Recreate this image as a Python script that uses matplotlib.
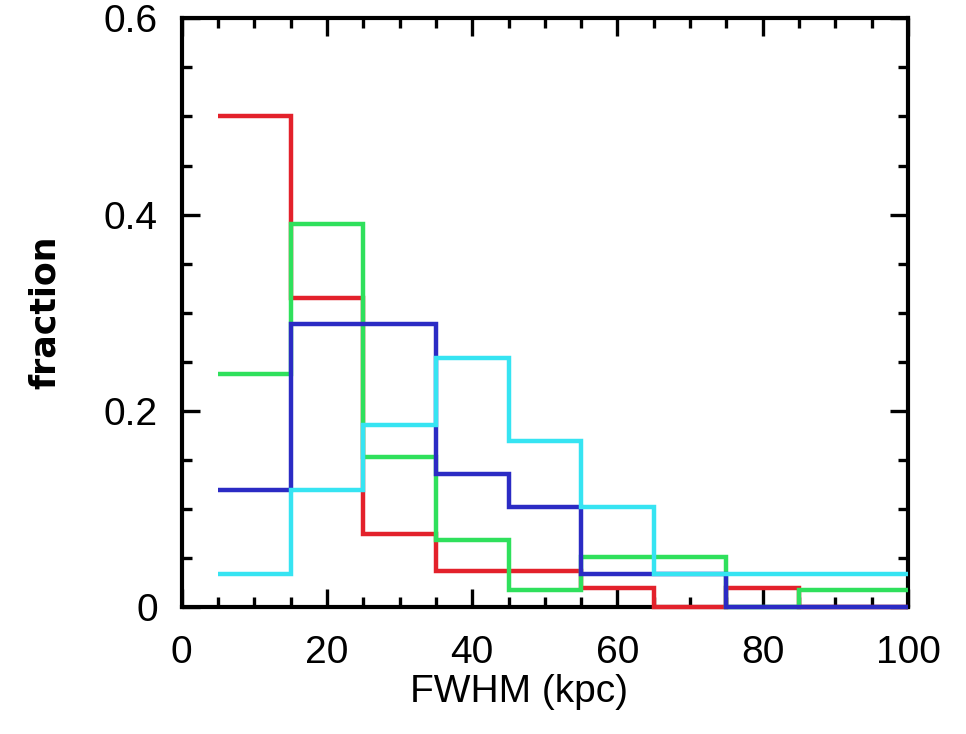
import numpy as np
import matplotlib
matplotlib.use("Agg")
import matplotlib.pyplot as plt
from matplotlib.ticker import MultipleLocator, FuncFormatter

# histogram bins (kpc), width 10 centred on 10, 20, ... ; last bin cut at the axis edge
bin_edges = [5, 15, 25, 35, 45, 55, 65, 75, 85, 95, 100]

# fractions
red_frac   = [0.500, 0.315, 0.074, 0.037, 0.037, 0.019, 0.000, 0.019, 0.000, 0.000]
green_frac = [0.237, 0.390, 0.153, 0.068, 0.017, 0.051, 0.051, 0.000, 0.017, 0.017]
blue_frac  = [0.119, 0.288, 0.288, 0.136, 0.102, 0.034, 0.034, 0.000, 0.000, 0.000]
cyan_frac  = [0.034, 0.119, 0.186, 0.254, 0.169, 0.102, 0.034, 0.034, 0.034, 0.034]

series = [(red_frac, '#e3212b'), (green_frac, '#2fe05c'),
          (blue_frac, '#2b2bc4'), (cyan_frac, '#36e4f2')]

plt.rcParams['font.family'] = ['Liberation Sans', 'DejaVu Sans']

fig = plt.figure(figsize=(9.66, 7.34), dpi=100)
ax = fig.add_axes([0.188, 0.173, 0.752, 0.802])

for i, (vals, col) in enumerate(series):
    ax.stairs(vals, bin_edges, baseline=None, color=col, lw=3.2,
              clip_on=False, zorder=3 + i)

ax.set_xlim(0, 100)
ax.set_ylim(0, 0.6)

ax.xaxis.set_major_locator(MultipleLocator(20))
ax.xaxis.set_minor_locator(MultipleLocator(5))
ax.yaxis.set_major_locator(MultipleLocator(0.2))
ax.yaxis.set_minor_locator(MultipleLocator(0.05))
ax.yaxis.set_major_formatter(FuncFormatter(lambda v, p: '0' if v == 0 else '%.1f' % v))

ax.tick_params(which='both', direction='in', top=True, right=True, width=2.4, labelsize=28)
ax.tick_params(which='major', length=13)
ax.tick_params(which='minor', length=7)
ax.tick_params(axis='y', which='major', pad=17)
ax.tick_params(axis='x', which='major', pad=20)
for s in ax.spines.values():
    s.set_linewidth(3)
    s.set_zorder(2)

ax.set_xlabel('FWHM (kpc)', fontsize=28)
ax.xaxis.set_label_coords(0.465, -0.113)
ax.set_ylabel('fraction', fontsize=25, fontweight='bold', labelpad=30,
              family=['Liberation Sans Narrow', 'DejaVu Sans'])

fig.savefig('out.png', dpi=100)
